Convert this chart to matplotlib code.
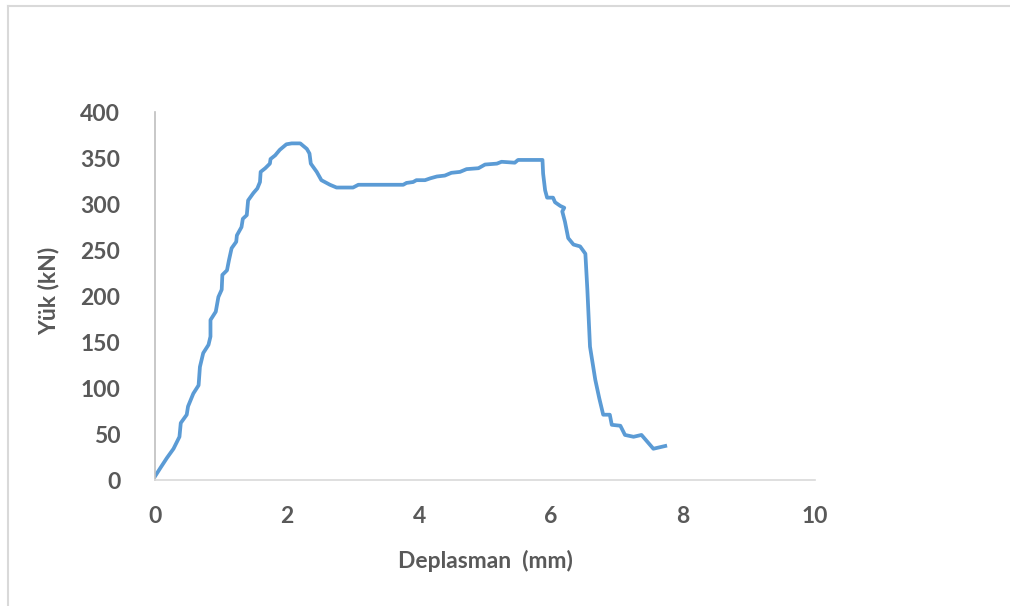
import matplotlib
matplotlib.use('Agg')
import matplotlib.pyplot as plt
from matplotlib.lines import Line2D

# load-displacement curve
deplasman = [0.0, 0.08, 0.18, 0.28, 0.37, 0.39, 0.48, 0.50, 0.58, 0.66, 0.68, 0.73, 0.81, 0.84,
             0.84, 0.92, 0.96, 1.01, 1.02, 1.09, 1.12, 1.16, 1.23, 1.24, 1.31, 1.33, 1.39, 1.41,
             1.49, 1.55, 1.59, 1.60, 1.67, 1.74, 1.75, 1.82, 1.89, 1.99, 2.07, 2.20, 2.30, 2.34,
             2.36, 2.45, 2.52, 2.65, 2.75, 3.00, 3.08, 3.76, 3.81, 3.91, 3.96, 4.09, 4.17, 4.27,
             4.39, 4.49, 4.62, 4.72, 4.90, 5.00, 5.18, 5.25, 5.45, 5.50, 5.87, 5.88, 5.91, 5.94,
             6.03, 6.06, 6.14, 6.20, 6.17, 6.21, 6.26, 6.34, 6.44, 6.52, 6.55, 6.59, 6.67, 6.73,
             6.79, 6.89, 6.92, 7.05, 7.12, 7.25, 7.37, 7.55, 7.73]
yuk = [4, 13, 24, 34, 47, 62, 71, 80, 94, 103, 123, 138, 147, 156,
       174, 183, 199, 207, 223, 228, 239, 252, 259, 266, 275, 284, 288, 304,
       312, 317, 324, 335, 339, 344, 349, 353, 359, 365, 366, 366, 360, 355,
       344, 335, 326, 321, 318, 318, 321, 321, 323, 324, 326, 326, 328, 330,
       331, 334, 335, 338, 339, 343, 344, 346, 345, 348, 348, 333, 315, 307,
       307, 302, 298, 296, 292, 281, 263, 256, 254, 246, 207, 145, 109, 89,
       71, 71, 60, 59, 49, 47, 49, 34, 37]

x_ticks = [0, 2, 4, 6, 8, 10]
y_ticks = [0, 50, 100, 150, 200, 250, 300, 350, 400]

grey = '#595959'
plt.rcParams['font.family'] = ['Lato', 'DejaVu Sans']

fig = plt.figure(figsize=(10.1, 6.06), dpi=100)
ax = fig.add_axes([0.1535, 0.2079, 0.6535, 0.6071])
ax.plot(deplasman, yuk, color='#5B9BD5', linewidth=2.7, solid_joinstyle='round')

ax.set_xlim(0, 10)
ax.set_ylim(0, 400)
ax.set_xticks(x_ticks)
ax.set_yticks(y_ticks)
ax.tick_params(length=0, labelsize=16.5, labelcolor=grey)
ax.tick_params(axis='x', pad=19)
ax.tick_params(axis='y', pad=25)
for lab in ax.get_xticklabels() + ax.get_yticklabels():
    lab.set_fontweight('bold')

for s in ['top', 'right']:
    ax.spines[s].set_visible(False)
ax.spines['left'].set_color('#BFBFBF')
ax.spines['bottom'].set_color('#D9D9D9')
ax.spines['left'].set_linewidth(1.2)
ax.spines['bottom'].set_linewidth(1.2)

fig.text(0.481, 0.075, 'Deplasman  (mm)', ha='center', va='center', fontsize=16.5,
         fontweight='bold', color=grey)
fig.text(0.048, 0.52, 'Yük (kN)', ha='center', va='center', rotation=90, fontsize=16.5,
         fontweight='bold', color=grey)

# chart border
fig.add_artist(Line2D([0.008, 1.0], [0.99, 0.99], transform=fig.transFigure, color='#D9D9D9', lw=1.5))
fig.add_artist(Line2D([0.008, 0.008], [0.0, 0.99], transform=fig.transFigure, color='#D9D9D9', lw=1.5))

fig.savefig('out.png', dpi=100, facecolor='white')
